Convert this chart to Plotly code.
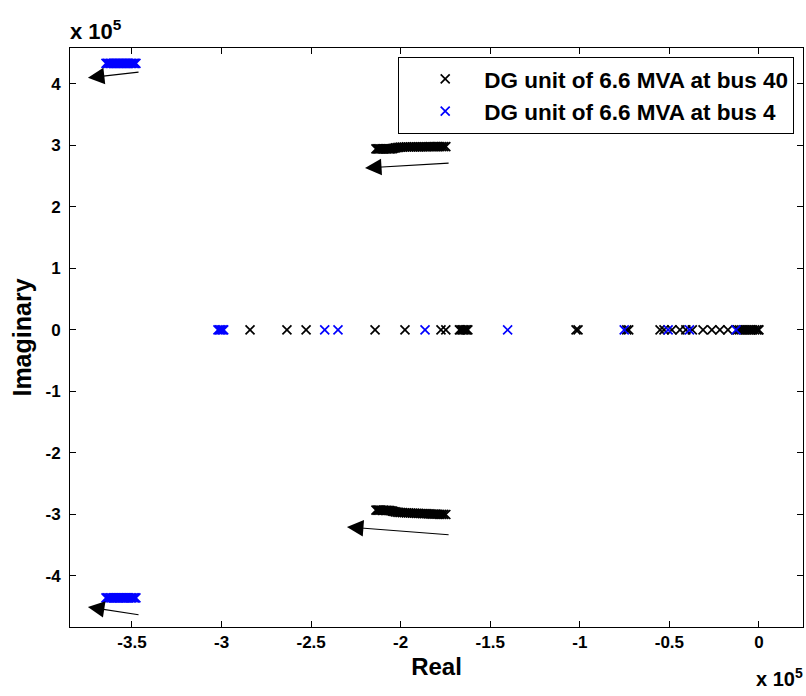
import plotly.graph_objects as go

# Eigenvalues in units of 1e5 (axes carry the "x 10^5" multiplier)
# DG unit of 6.6 MVA at bus 40
bus40_real = [
    # complex pair, upper branch
    -2.138, -2.131, -2.124, -2.117, -2.110, -2.102, -2.094, -2.086, -2.078,
    -2.070, -2.062, -2.054, -2.046, -2.038, -2.030, -2.020, -2.010, -2.000,
    -1.990, -1.979, -1.968, -1.957, -1.946, -1.935, -1.924, -1.913, -1.902,
    -1.891, -1.880, -1.869, -1.858, -1.847, -1.836, -1.825, -1.814, -1.803,
    -1.792, -1.781, -1.770, -1.759, -1.748,
    # complex pair, lower branch
    -2.138, -2.131, -2.124, -2.117, -2.110, -2.102, -2.094, -2.086, -2.078,
    -2.070, -2.062, -2.054, -2.046, -2.038, -2.030, -2.020, -2.010, -2.000,
    -1.990, -1.979, -1.968, -1.957, -1.946, -1.935, -1.924, -1.913, -1.902,
    -1.891, -1.880, -1.869, -1.858, -1.847, -1.836, -1.825, -1.814, -1.803,
    -1.792, -1.781, -1.770, -1.759, -1.748,
    # real eigenvalues
    -2.841, -2.635, -2.528, -2.143, -1.976, -1.775, -1.748, -1.672, -1.664,
    -1.656, -1.648, -1.640, -1.632, -1.625, -1.021, -1.010, -0.738, -0.727,
    -0.552, -0.530, -0.486, -0.441, -0.408, -0.372, -0.312, -0.263, -0.218,
    -0.173, -0.120, -0.108, -0.096, -0.084, -0.072, -0.060, -0.048, -0.036,
    -0.024, -0.012, -0.004, 0.0,
]
bus40_imag = [
    2.945, 2.945, 2.944, 2.946, 2.945, 2.944, 2.945, 2.946, 2.945,
    2.944, 2.945, 2.946, 2.950, 2.955, 2.960, 2.966, 2.970, 2.972,
    2.974, 2.975, 2.976, 2.975, 2.976, 2.977, 2.976, 2.977, 2.978,
    2.977, 2.978, 2.979, 2.978, 2.979, 2.980, 2.979, 2.980, 2.980,
    2.981, 2.980, 2.981, 2.981, 2.982,
    -2.930, -2.930, -2.931, -2.930, -2.931, -2.932, -2.931, -2.932, -2.933,
    -2.934, -2.936, -2.940, -2.946, -2.952, -2.958, -2.963, -2.966, -2.968,
    -2.970, -2.972, -2.973, -2.975, -2.976, -2.978, -2.979, -2.981, -2.982,
    -2.984, -2.985, -2.987, -2.988, -2.990, -2.991, -2.993, -2.994, -2.996,
    -2.997, -2.998, -2.999, -3.000, -3.001,
    0, 0, 0, 0, 0, 0, 0, 0, 0,
    0, 0, 0, 0, 0, 0, 0, 0, 0,
    0, 0, 0, 0, 0, 0, 0, 0, 0,
    0, 0, 0, 0, 0, 0, 0, 0, 0,
    0, 0, 0, 0,
]

# DG unit of 6.6 MVA at bus 4
bus4_real = [
    # complex pair, upper branch
    -3.645, -3.637, -3.629, -3.621, -3.613, -3.605, -3.597, -3.589, -3.581,
    -3.573, -3.565, -3.557, -3.549, -3.541, -3.533, -3.525, -3.517, -3.509,
    -3.501, -3.493, -3.485, -3.478,
    # complex pair, lower branch
    -3.645, -3.637, -3.629, -3.621, -3.613, -3.605, -3.597, -3.589, -3.581,
    -3.573, -3.565, -3.557, -3.549, -3.541, -3.533, -3.525, -3.517, -3.509,
    -3.501, -3.493, -3.485, -3.478,
    # real eigenvalues
    -3.020, -3.012, -3.004, -2.996, -2.988, -2.424, -2.350, -1.864, -1.403,
    -0.752, -0.507, -0.388, -0.128,
]
bus4_imag = [
    4.335, 4.336, 4.335, 4.334, 4.335, 4.336, 4.335, 4.334, 4.335,
    4.336, 4.335, 4.334, 4.335, 4.336, 4.335, 4.334, 4.335, 4.336,
    4.335, 4.334, 4.335, 4.336,
    -4.355, -4.356, -4.355, -4.354, -4.355, -4.356, -4.355, -4.354, -4.355,
    -4.356, -4.355, -4.354, -4.355, -4.356, -4.355, -4.354, -4.355, -4.356,
    -4.355, -4.354, -4.355, -4.356,
    0, 0, 0, 0, 0, 0, 0, 0, 0,
    0, 0, 0, 0,
]

# Direction arrows: (tail_x, tail_y, head_x, head_y)
arrows = [
    (-3.455, 4.195, -3.746, 4.100),
    (-1.724, 2.715, -2.199, 2.634),
    (-1.724, -3.333, -2.300, -3.203),
    (-3.455, -4.634, -3.746, -4.504),
]

x_ticks = [-3.5, -3.0, -2.5, -2.0, -1.5, -1.0, -0.5, 0.0]
x_ticktext = ["-3.5", "-3", "-2.5", "-2", "-1.5", "-1", "-0.5", "0"]
y_ticks = [-4, -3, -2, -1, 0, 1, 2, 3, 4]
y_ticktext = ["-4", "-3", "-2", "-1", "0", "1", "2", "3", "4"]

FONT = "Liberation Sans"

fig = go.Figure()
fig.add_trace(go.Scatter(
    x=bus40_real, y=bus40_imag, mode="markers",
    name="<b>DG unit of 6.6 MVA at bus 40</b>", legendgroup="a",
    marker=dict(symbol="x-thin-open", size=9, color="black",
                line=dict(color="black", width=1.7)),
))
fig.add_trace(go.Scatter(
    x=bus4_real, y=bus4_imag, mode="markers",
    name="<b>DG unit of 6.6 MVA at bus 4</b>", legendgroup="b",
    marker=dict(symbol="x-thin-open", size=9, color="blue",
                line=dict(color="blue", width=1.7)),
))

for tx, ty, hx, hy in arrows:
    fig.add_annotation(
        x=hx, y=hy, ax=tx, ay=ty, xref="x", yref="y", axref="x", ayref="y",
        showarrow=True, arrowhead=2, arrowsize=3, arrowwidth=1.1,
        arrowcolor="black", text="",
    )

fig.add_annotation(
    xref="paper", yref="paper", x=0, y=1, xanchor="left", yanchor="bottom",
    xshift=-2, yshift=2, showarrow=False,
    text="<b>x 10<sup>5</sup></b>", font=dict(family=FONT, size=22, color="black"),
)
fig.add_annotation(
    xref="paper", yref="paper", x=1, y=0, xanchor="right", yanchor="top",
    xshift=2, yshift=-36, showarrow=False,
    text="<b>x 10<sup>5</sup></b>", font=dict(family=FONT, size=20, color="black"),
)

axis_common = dict(
    showline=True, linecolor="black", linewidth=1, mirror="ticks",
    ticks="inside", ticklen=6, tickcolor="black", tickwidth=1,
    showgrid=False, zeroline=False,
    tickfont=dict(family=FONT, size=17, color="black", weight="bold"),
)

fig.update_xaxes(
    range=[-3.846, 0.246], tickvals=x_ticks, ticktext=x_ticktext,
    title=dict(text="<b>Real</b>", font=dict(family=FONT, size=24, color="black"),
               standoff=6),
    **axis_common,
)
fig.update_yaxes(
    range=[-4.83, 4.585], tickvals=y_ticks, ticktext=y_ticktext,
    ticklabelstandoff=5,
    title=dict(text="<b>Imaginary</b>", font=dict(family=FONT, size=25, color="black"),
               standoff=6),
    **axis_common,
)

fig.update_layout(
    width=806, height=696,
    margin=dict(l=70, r=3, t=48, b=69, autoexpand=False),
    paper_bgcolor="white", plot_bgcolor="white",
    font=dict(family=FONT, color="black"),
    legend=dict(
        x=0.988, y=0.985, xanchor="right", yanchor="top",
        bgcolor="white", bordercolor="black", borderwidth=1,
        font=dict(family=FONT, size=22.5, color="black"),
        tracegroupgap=0, indentation=7, itemwidth=68,
    ),
)

fig.write_html("out.html")
